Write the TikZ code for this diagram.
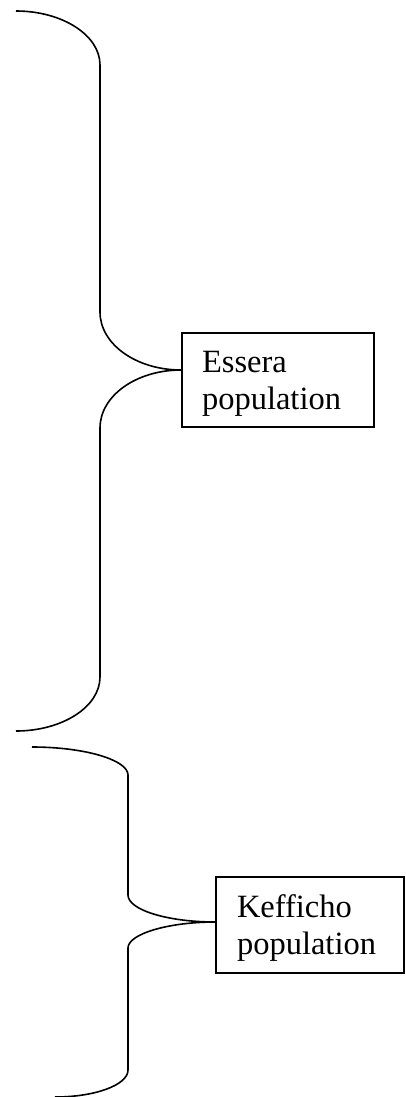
\documentclass[tikz,border=0pt]{standalone}
\usepackage{fontspec}
\setmainfont{Liberation Serif}
\begin{document}
\begin{tikzpicture}[x=1pt,y=-1pt,
  line width=1.6pt,
  popbox/.style={draw, rectangle, align=left, anchor=center,
    font=\fontsize{32.5}{37}\selectfont, inner ysep=0pt},
  brace/.style={draw, line cap=butt}]
\useasboundingbox (0,0) rectangle (405,1097);

% population boxes
\node[popbox, minimum width=192pt, minimum height=94pt, text width=152pt, inner xsep=20pt]
  (essera) at (278,380) {\rule{0pt}{28pt}Essera\\population};
\node[popbox, minimum width=188pt, minimum height=96pt, text width=146pt, inner xsep=21pt]
  (keffico) at (310,925) {\rule{0pt}{28pt}Kefficho\\population};

% brace tips on the boxes' left sides
\coordinate (essera-tip) at (essera.west |- 0,370);
\coordinate (keffico-tip) at (keffico.west |- 0,922);

% upper brace
\coordinate (b1-top) at (16,11);
\coordinate (b1-a) at (100,65);
\coordinate (b1-b) at (100,312);
\coordinate (b1-c) at (100,428);
\coordinate (b1-d) at (100,677);
\coordinate (b1-bot) at (16,731);
\path[brace] (b1-top) .. controls (62,11) and (100,35) .. (b1-a)
  -- (b1-b) .. controls (100,344) and (136,370) .. (essera-tip)
  .. controls (136,370) and (100,396) .. (b1-c)
  -- (b1-d) .. controls (100,707) and (62,731) .. (b1-bot);

% lower brace
\coordinate (b2-top) at (32,747);
\coordinate (b2-a) at (128,775);
\coordinate (b2-b) at (128,895);
\coordinate (b2-c) at (128,948);
\coordinate (b2-d) at (128,1070);
\coordinate (b2-bot) at (55,1097);
\path[brace] (b2-top) .. controls (85,747) and (128,760) .. (b2-a)
  -- (b2-b) .. controls (128,910) and (168,922) .. (keffico-tip)
  .. controls (168,922) and (128,934) .. (b2-c)
  -- (b2-d) .. controls (128,1085) and (95,1097) .. (b2-bot);
\end{tikzpicture}
\end{document}
